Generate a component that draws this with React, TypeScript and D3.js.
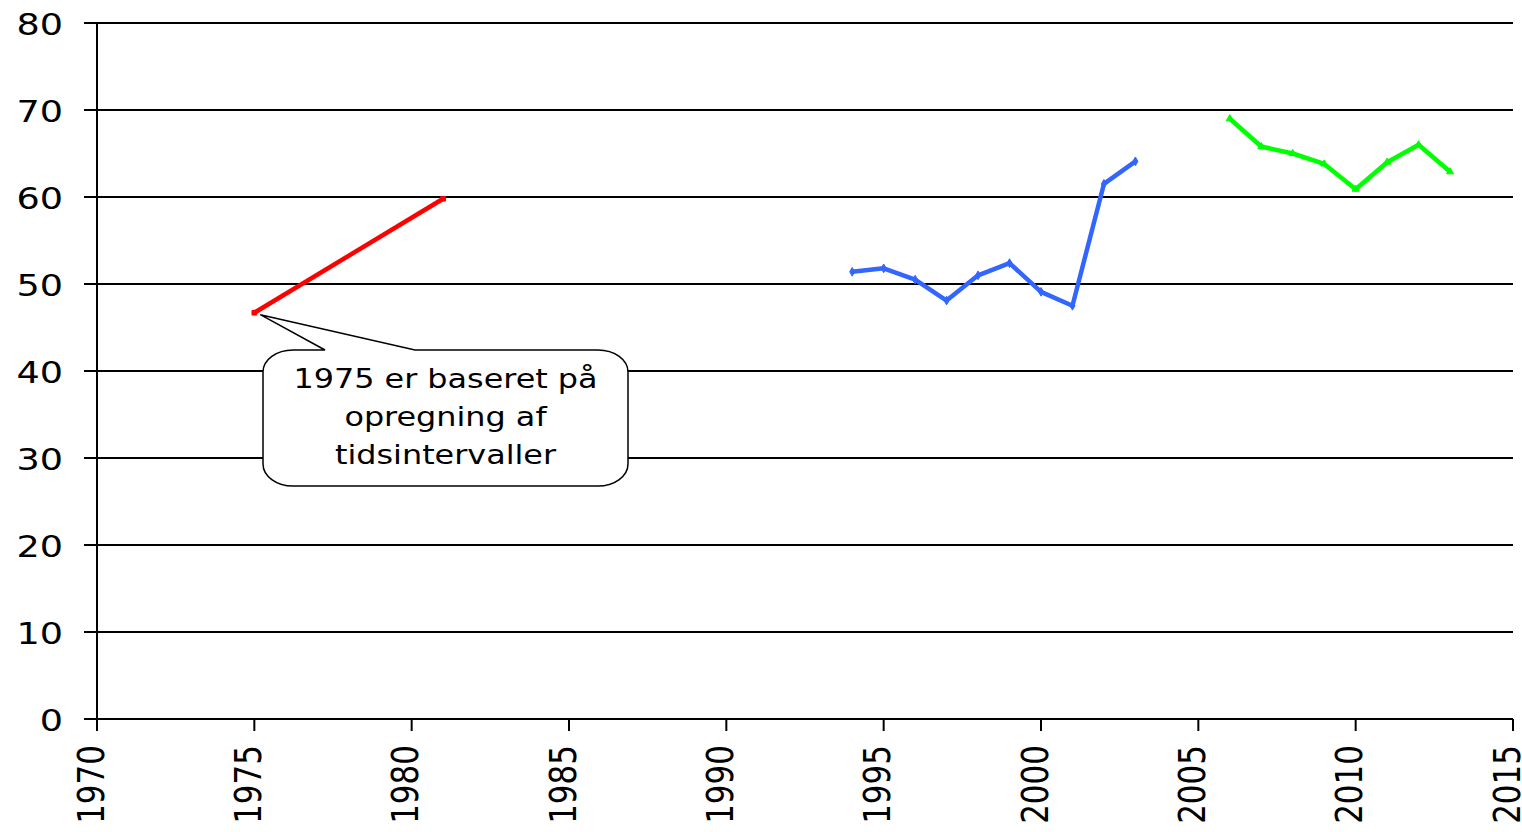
import React from "react";
import * as d3 from "d3";

const redYears = [1975, 1981];
const redValues = [46.7, 59.8];
const blueYears = [1994, 1995, 1996, 1997, 1998, 1999, 2000, 2001, 2002, 2003];
const blueValues = [51.4, 51.8, 50.5, 48.1, 51.0, 52.4, 49.1, 47.5, 61.5, 64.1];
const greenYears = [2006, 2007, 2008, 2009, 2010, 2011, 2012, 2013];
const greenValues = [69.0, 65.8, 65.0, 63.8, 60.9, 64.0, 66.0, 62.9];
const yTicks = [0, 10, 20, 30, 40, 50, 60, 70, 80];
const xTicks = [1970, 1975, 1980, 1985, 1990, 1995, 2000, 2005, 2010, 2015];
const noteLines = ["1975 er baseret på", "opregning af", "tidsintervaller"];

const W = 1522;
const H = 832;
const FONT = "'DejaVu Sans', Verdana, sans-serif";
const SX = 1.18;

export default function App() {
  const x = d3.scaleLinear().domain([1970, 2015]).range([97, 1513]);
  const y = d3.scaleLinear().domain([0, 80]).range([719, 23]);
  const line = d3
    .line<[number, number]>()
    .x((d) => x(d[0]))
    .y((d) => y(d[1]));

  const series = [
    { years: redYears, values: redValues, color: "#ff0000", sym: d3.symbolSquare },
    { years: blueYears, values: blueValues, color: "#3366ff", sym: d3.symbolDiamond },
    { years: greenYears, values: greenValues, color: "#00ff00", sym: d3.symbolTriangle },
  ];

  // callout geometry
  const L = 263, R = 628, T = 350, B = 486, rx = 30, ry = 22;
  const tipX = x(1975) + 6;
  const tipY = y(redValues[0]) + 2;
  const b1 = 325, b2 = 415;
  const callout = [
    `M${L + rx},${T}`,
    `L${b1},${T}`,
    `L${tipX},${tipY}`,
    `L${b2},${T}`,
    `L${R - rx},${T}`,
    `A${rx},${ry} 0 0 1 ${R},${T + ry}`,
    `L${R},${B - ry}`,
    `A${rx},${ry} 0 0 1 ${R - rx},${B}`,
    `L${L + rx},${B}`,
    `A${rx},${ry} 0 0 1 ${L},${B - ry}`,
    `L${L},${T + ry}`,
    `A${rx},${ry} 0 0 1 ${L + rx},${T}`,
    "Z",
  ].join(" ");
  const cx = (L + R) / 2;
  const baselines = [388, 426, 464];

  return (
    <svg
      width={W}
      height={H}
      style={{ position: "absolute", left: 0, top: 0, background: "#fff" }}
    >
      {/* gridlines */}
      {yTicks.map((t) => (
        <line
          key={"g" + t}
          x1={84}
          x2={1513}
          y1={y(t)}
          y2={y(t)}
          stroke="#000"
          strokeWidth={2}
        />
      ))}
      {/* y axis */}
      <line x1={x(1970)} x2={x(1970)} y1={y(80)} y2={y(0)} stroke="#000" strokeWidth={2} />
      {/* x ticks */}
      {xTicks.map((t) => (
        <line key={"xt" + t} x1={x(t)} x2={x(t)} y1={y(0)} y2={731} stroke="#000" strokeWidth={2} />
      ))}
      {/* y labels */}
      {yTicks.map((t) => (
        <text
          key={"yl" + t}
          transform={`translate(63,${y(t) + 12}) scale(${SX},1)`}
          textAnchor="end"
          fontFamily={FONT}
          fontSize={31}
          fill="#000"
        >
          {t}
        </text>
      ))}
      {/* x labels */}
      {xTicks.map((t) => (
        <text
          key={"xl" + t}
          transform={`translate(${x(t)},745) scale(${SX},1) rotate(-90)`}
          textAnchor="end"
          dy={5.6}
          fontFamily={FONT}
          fontSize={31}
          fill="#000"
        >
          {t}
        </text>
      ))}
      {/* series */}
      {series.map((s, i) => {
        const pts = s.years.map((yr, j) => [yr, s.values[j]] as [number, number]);
        const sym = d3.symbol().type(s.sym).size(22)();
        return (
          <g key={"s" + i}>
            <path d={line(pts) || ""} fill="none" stroke={s.color} strokeWidth={4.5} strokeLinejoin="round" />
            {pts.map((p, j) => (
              <path
                key={j}
                d={sym || ""}
                transform={`translate(${x(p[0])},${y(p[1])})`}
                fill={s.color}
                stroke={s.color}
                strokeWidth={1}
              />
            ))}
          </g>
        );
      })}
      {/* callout */}
      <path d={callout} fill="#fff" stroke="#000" strokeWidth={1.5} />
      {noteLines.map((ln, i) => (
        <text
          key={"n" + i}
          transform={`translate(${cx},${baselines[i]}) scale(${SX},1)`}
          textAnchor="middle"
          fontFamily={FONT}
          fontSize={27}
          fill="#000"
        >
          {ln}
        </text>
      ))}
    </svg>
  );
}
